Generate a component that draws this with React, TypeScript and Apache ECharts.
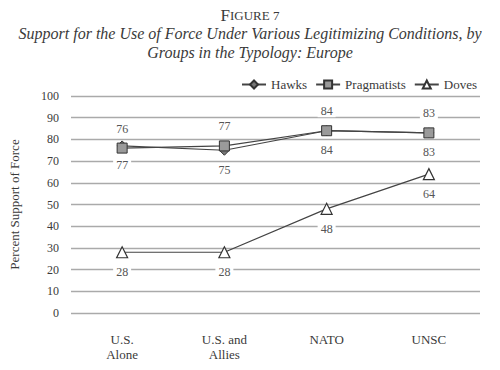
import React, { useEffect, useRef } from "react";
import * as echarts from "echarts";

const categories = ["U.S.\nAlone", "U.S. and\nAllies", "NATO", "UNSC"];
const hawks = [77, 75, 84, 83];
const pragmatists = [76, 77, 84, 83];
const doves = [28, 28, 48, 64];
const seriesNames = ["Hawks", "Pragmatists", "Doves"];

const FONT = "Liberation Serif";
const TXT = "#3a3a3a";

export default function App() {
  const ref = useRef<HTMLDivElement>(null);
  useEffect(() => {
    if (!ref.current) return;
    const chart = echarts.init(ref.current, undefined, { renderer: "svg" });
    const labelBase = {
      show: true,
      fontFamily: FONT,
      fontSize: 12,
      color: "#555",
      backgroundColor: "#fff",
      padding: [0, 3],
    };
    chart.setOption({
      animation: false,
      backgroundColor: "#fff",
      textStyle: { fontFamily: FONT },
      title: [
        {
          text: "{a|F}{b|IGURE 7}",
          left: "center",
          top: 2,
          textStyle: {
            fontWeight: "normal",
            rich: {
              a: { fontFamily: FONT, fontSize: 17, color: TXT, fontWeight: "normal" },
              b: { fontFamily: FONT, fontSize: 13, color: TXT, fontWeight: "normal" },
            },
          },
        },
        {
          text: "Support for the Use of Force Under Various Legitimizing Conditions, by",
          left: "center",
          top: 20,
          textStyle: {
            fontFamily: FONT,
            fontStyle: "italic",
            fontSize: 16,
            fontWeight: "normal",
            color: TXT,
          },
        },
        {
          text: "Groups in the Typology: Europe",
          left: "center",
          top: 39,
          textStyle: {
            fontFamily: FONT,
            fontStyle: "italic",
            fontSize: 16,
            fontWeight: "normal",
            color: TXT,
          },
        },
      ],
      legend: {
        right: 18,
        top: 73,
        itemWidth: 24,
        itemHeight: 10,
        itemGap: 8,
        textStyle: { fontFamily: FONT, fontSize: 13, color: TXT },
        data: seriesNames,
      },
      grid: { left: 65, right: 20, top: 96, bottom: 57 },
      xAxis: {
        type: "category",
        data: categories,
        boundaryGap: true,
        axisLine: { show: false },
        axisTick: { show: false },
        axisLabel: {
          fontFamily: FONT,
          fontSize: 13,
          color: TXT,
          margin: 19,
          lineHeight: 15,
        },
      },
      yAxis: {
        type: "value",
        min: 0,
        max: 100,
        interval: 10,
        name: "Percent Support of Force",
        nameLocation: "middle",
        nameGap: 50,
        nameTextStyle: { fontFamily: FONT, fontSize: 13, color: TXT },
        axisLine: { show: false },
        axisTick: { show: false },
        axisLabel: { fontFamily: FONT, fontSize: 12, color: TXT, margin: 12 },
        splitLine: { lineStyle: { color: "#aaaaaa", width: 1.3 } },
      },
      series: [
        {
          name: "Hawks",
          type: "line",
          data: hawks,
          symbol: "diamond",
          symbolSize: 10,
          lineStyle: { color: "#444", width: 1.2 },
          itemStyle: { color: "#777", borderColor: "#333", borderWidth: 1 },
          label: { ...labelBase, position: "bottom", distance: 8 },
          z: 3,
        },
        {
          name: "Pragmatists",
          type: "line",
          data: pragmatists,
          symbol: "rect",
          symbolSize: 10,
          lineStyle: { color: "#444", width: 1.2 },
          itemStyle: { color: "#9a9a9a", borderColor: "#333", borderWidth: 1 },
          label: { ...labelBase, position: "top", distance: 8 },
          z: 4,
        },
        {
          name: "Doves",
          type: "line",
          data: doves,
          symbol: "triangle",
          symbolSize: 11,
          lineStyle: { color: "#444", width: 1.2 },
          itemStyle: { color: "#fff", borderColor: "#333", borderWidth: 1.2 },
          label: { ...labelBase, position: "bottom", distance: 8 },
          z: 3,
        },
      ],
    });
    return () => chart.dispose();
  }, []);
  return (
    <div
      ref={ref}
      style={{ position: "absolute", left: 0, top: 0, width: 500, height: 370 }}
    />
  );
}
